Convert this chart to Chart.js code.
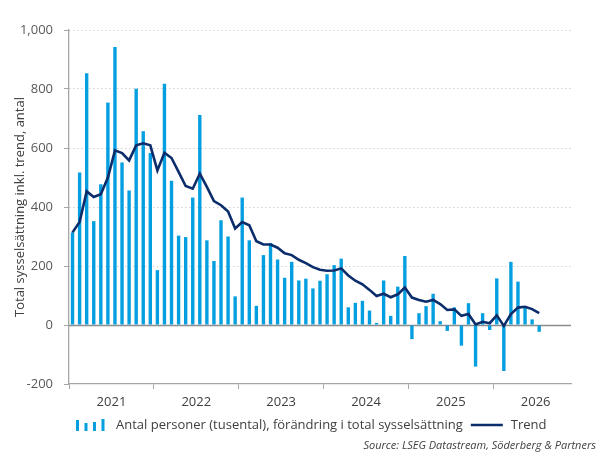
<!DOCTYPE html>
<html>
<head>
<meta charset="utf-8">
<script src="https://cdn.jsdelivr.net/npm/chart.js@4/dist/chart.umd.min.js"></script>
<style>
html,body{margin:0;padding:0;background:#fff;}
#wrap{width:599px;height:455px;}
</style>
</head>
<body>
<div id="wrap"><canvas id="c" width="599" height="455"></canvas></div>
<script>
// ---- data ----
const years = ['2021','2022','2023','2024','2025','2026'];
const monthsPerYear = ['Jan','Feb','Mar','Apr','May','Jun','Jul','Aug','Sep','Oct','Nov','Dec'];
const lastYearMonths = 11; // axis runs Jan 2021 – Nov 2026
const barLabel = 'Antal personer (tusental), förändring i total sysselsättning';
const lineLabel = 'Trend';
const yTitle = 'Total sysselsättning inkl. trend, antal';
const sourceText = 'Source: LSEG Datastream, Söderberg & Partners';
const yTicks = [-200, 0, 200, 400, 600, 800, 1000];

const changeValues = [
  314, 517, 853, 352, 477, 754, 942, 551, 456, 801, 657, 583,
  186, 818, 489, 303, 298, 432, 712, 287, 217, 355, 300, 97,
  432, 287, 65, 237, 278, 222, 160, 214, 151, 157, 124, 150,
  172, 203, 225, 60, 75, 82, 49, 7, 151, 31, 130, 234,
  -48, 40, 64, 106, 13, -20, 60, -70, 74, -141, 40, -17,
  158, -156, 214, 147, 62, 19, -23
];
const trendValues = [
  314, 349, 453, 434, 443, 500, 592, 583, 558, 609, 616, 609,
  524, 584, 566, 519, 471, 462, 513, 468, 420, 406, 385, 327,
  349, 338, 284, 273, 273, 262, 243, 237, 221, 210, 196, 187,
  184, 185, 192, 168, 150, 138, 119, 98, 106, 94, 104, 127,
  93, 85, 79, 85, 71, 51, 53, 31, 37, 2, 11, 6,
  33, -3, 37, 59, 62, 54, 40
];

// categories
const categories = [];
years.forEach((y, yi) => {
  const n = yi === years.length - 1 ? lastYearMonths : 12;
  for (let m = 0; m < n; m++) categories.push(monthsPerYear[m] + ' ' + y);
});

// ---- styles ----
const barColor = '#049fe0';
const lineColor = '#0c2d6b';
const FONT = "'Open Sans', sans-serif";
const textColor = '#404040';

const zeroLine = {
  id: 'zeroLine',
  beforeDatasetsDraw(chart) {
    const {ctx, chartArea, scales} = chart;
    const y = Math.round(scales.y.getPixelForValue(0)) + 0.5;
    ctx.save();
    ctx.strokeStyle = '#8c8c8c';
    ctx.lineWidth = 1.3;
    ctx.beginPath();
    ctx.moveTo(chartArea.left, y);
    ctx.lineTo(chartArea.right, y);
    ctx.stroke();
    ctx.restore();
  }
};

// legend + source, drawn below the axis
const legendPlugin = {
  id: 'customLegend',
  afterDraw(chart) {
    const ctx = chart.ctx;
    const barDs = chart.data.datasets[1];
    const lineDs = chart.data.datasets[0];
    const cy = 425;
    ctx.save();
    // bar icon
    ctx.fillStyle = barDs.backgroundColor;
    [11, 8, 9, 12].forEach((h, i) => ctx.fillRect(76 + i * 8.5, cy + 6 - h, 3, h));
    ctx.font = "13px " + FONT;
    ctx.fillStyle = textColor;
    ctx.textBaseline = 'middle';
    ctx.textAlign = 'left';
    ctx.fillText(barDs.label, 116, cy);
    const w = ctx.measureText(barDs.label).width;
    const lx = 116 + w + 8;
    ctx.strokeStyle = lineDs.borderColor;
    ctx.lineWidth = 2.6;
    ctx.beginPath();
    ctx.moveTo(lx, cy);
    ctx.lineTo(lx + 32, cy);
    ctx.stroke();
    ctx.fillText(lineDs.label, lx + 40, cy);
    // source
    ctx.font = "italic 11px " + FONT;
    ctx.textAlign = 'right';
    ctx.fillText(sourceText, 596, 446);
    ctx.restore();
  }
};

new Chart(document.getElementById('c'), {
  data: {
    labels: categories,
    datasets: [
      {
        type: 'line',
        label: lineLabel,
        data: trendValues,
        borderColor: lineColor,
        backgroundColor: lineColor,
        borderWidth: 2.6,
        pointRadius: 0,
        tension: 0,
        order: 0
      },
      {
        type: 'bar',
        label: barLabel,
        data: changeValues,
        backgroundColor: barColor,
        borderWidth: 0,
        barPercentage: 0.48,
        categoryPercentage: 1,
        order: 1
      }
    ]
  },
  options: {
    responsive: false,
    animation: false,
    layout: { padding: { left: 0, right: 28, top: 30, bottom: 44 } },
    plugins: {
      tooltip: { enabled: false },
      legend: { display: false }
    },
    scales: {
      x: {
        type: 'category',
        offset: true,
        grid: {
          offset: true,
          drawOnChartArea: false,
          drawTicks: true,
          tickLength: 5,
          color: (c) => (c.index !== undefined && c.index % 12 === 0) ? '#a6a6a6' : 'rgba(0,0,0,0)',
          tickColor: (c) => (c.index !== undefined && c.index % 12 === 0) ? '#a6a6a6' : 'rgba(0,0,0,0)'
        },
        border: { display: true, color: '#a6a6a6', width: 1.3 },
        ticks: {
          autoSkip: false,
          maxRotation: 0,
          minRotation: 0,
          padding: 5,
          labelOffset: -3.5,
          color: textColor,
          font: { family: FONT, size: 13 },
          callback: function(v, i) {
            return (i % 12 === 6) ? years[Math.floor(i / 12)] : '';
          }
        },
        afterFit(scale) { scale.height = 27; }
      },
      y: {
        min: yTicks[0],
        max: yTicks[yTicks.length - 1],
        afterBuildTicks(scale) { scale.ticks = yTicks.map(v => ({ value: v })); },
        grid: {
          color: (c) => (c.tick && (c.tick.value === 0 || c.tick.value === -200)) ? 'rgba(0,0,0,0)' : '#bdbdbd',
          tickColor: '#a6a6a6',
          tickLength: 5,
          lineWidth: 1
        },
        border: { display: true, color: '#a6a6a6', width: 1.3, dash: [1, 3] },
        ticks: {
          padding: 11,
          color: '#595959',
          font: { family: FONT, size: 13 },
          callback: (v) => v.toLocaleString('en-US')
        },
        title: {
          display: true,
          text: yTitle,
          align: 'center',
          color: textColor,
          font: { family: FONT, size: 13 },
          padding: { top: 12, bottom: 0 }
        },
        afterFit(scale) { scale.width = 69; }
      }
    }
  },
  plugins: [zeroLine, legendPlugin]
});
</script>
</body>
</html>
